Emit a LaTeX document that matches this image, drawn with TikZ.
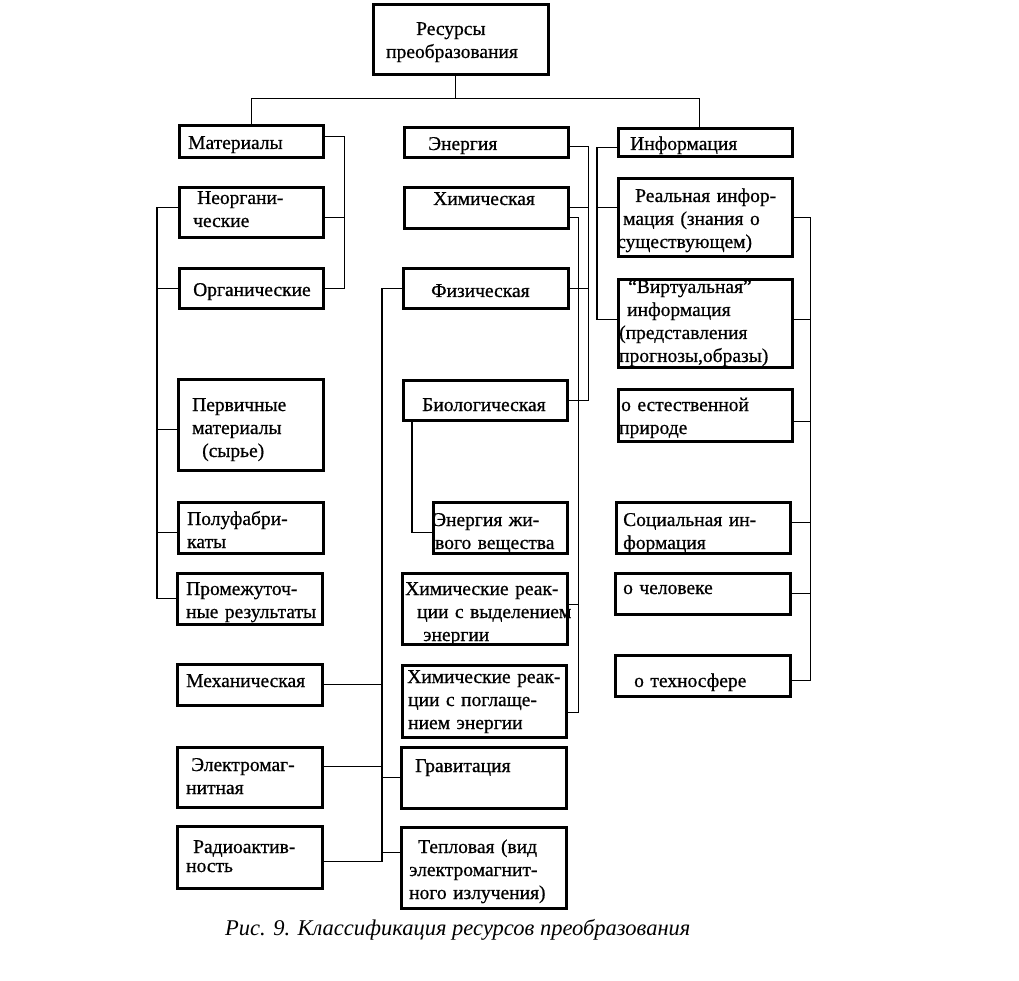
\documentclass[tikz,border=0pt]{standalone}
\usepackage{fontspec}
\setmainfont{Liberation Serif}
\newfontfamily\bodyf[FakeBold=0.7]{Liberation Serif}
\newcommand\fs{\bodyf\fontsize{19.5}{23}\selectfont}
\newcommand\Bx[5]{\node[box, minimum width={#4-#2}, minimum height={#5-#3}] (#1) at (#2,#3) {};}
\begin{document}
\begin{tikzpicture}[x=1pt,y=-1pt,
  box/.style={draw, line width=2.6pt, rectangle, anchor=north west, inner sep=0pt},
  txt/.style={anchor=base west, inner sep=0pt, text width=200pt, align=left, font=\fs},
  con/.style={line width=1.2pt}]
\useasboundingbox[fill=white] (0,0) rectangle (1019,981);

% boxes
\Bx{top}{372}{3}{547}{73}
\Bx{mat}{178}{124}{322}{156}
\Bx{neorg}{178}{186}{322}{236}
\Bx{org}{178}{267}{322}{307}
\Bx{perv}{177}{378}{322}{469}
\Bx{polu}{177}{501}{322}{552}
\Bx{prom}{176}{572}{321}{623}
\Bx{meh}{176}{663}{321}{704}
\Bx{el}{176}{746}{321}{806}
\Bx{rad}{176}{825}{321}{887}
\Bx{en}{403}{126}{567}{156}
\Bx{him}{403}{186}{567}{227}
\Bx{fiz}{402}{267}{567}{307}
\Bx{bio}{402}{379}{566}{419}
\Bx{ej}{432}{501}{566}{552}
\Bx{hrv}{401}{572}{566}{643}
\Bx{hrp}{401}{664}{565}{736}
\Bx{grav}{400}{746}{565}{807}
\Bx{tep}{400}{826}{565}{907}
\Bx{inf}{617}{127}{791}{155}
\Bx{real}{617}{177}{791}{255}
\Bx{virt}{617}{278}{791}{366}
\Bx{est}{617}{388}{791}{440}
\Bx{soc}{615}{501}{789}{552}
\Bx{chel}{614}{572}{789}{613}
\Bx{teh}{614}{654}{789}{695}

% texts
\node[txt] (ttop) at (386,35) {\hspace*{30pt}Ресурсы\\преобразования};
\node[txt] (tmat) at (188,149) {Материалы};
\node[txt] (tneorg) at (193,204) {\hspace*{4pt}Неоргани-\\ческие};
\node[txt] (torg) at (193,296) {Органические};
\node[txt] (tperv) at (192,411) {Первичные\\материалы\\\hspace*{10pt}(сырье)};
\node[txt] (tpolu) at (187,525) {Полуфабри-\\каты};
\node[txt] (tprom) at (186,595) {Промежуточ-\\ные результаты};
\node[txt] (tmeh) at (186,687) {Механическая};
\node[txt] (tel) at (186,771) {\hspace*{5pt}Электромаг-\\нитная};
\node[txt] (trad) at (186,853) {\hspace*{7pt}Радиоактив-\\[-4pt]ность};
\node[txt] (ten) at (428,150) {Энергия};
\node[txt] (thim) at (433,205) {Химическая};
\node[txt] (tfiz) at (431,297) {Физическая};
\node[txt] (tbio) at (422,411) {Биологическая};
\node[txt] (tej) at (433,526) {Энергия жи-\\\hspace*{2pt}вого вещества};
\node[txt] (thrv) at (405,595) {Химические реак-\\\hspace*{12pt}ции с выделением\\\hspace*{18pt}энергии};
\node[txt] (thrp) at (407,683) {Химические реак-\\\hspace*{1pt}ции с поглаще-\\\hspace*{1pt}нием энергии};
\node[txt] (tgrav) at (415,772) {Гравитация};
\node[txt] (ttep) at (409,853) {\hspace*{9pt}Тепловая (вид\\электромагнит-\\ного излучения)};
\node[txt] (tinf) at (630,150) {Информация};
\node[txt] (treal) at (617,202) {\hspace*{18pt}Реальная инфор-\\\hspace*{6pt}мация (знания о\\существующем)};
\node[txt] (tvirt) at (619,293) {\hspace*{9pt}“Виртуальная”\\\hspace*{8pt}информация\\(представления\\прогнозы,образы)};
\node[txt] (test) at (619,411) {\hspace*{2pt}о естественной\\природе};
\node[txt] (tsoc) at (623,526) {Социальная ин-\\формация};
\node[txt] (tchel) at (623,594) {о человеке};
\node[txt] (tteh) at (634,687) {о техносфере};

% connectors
\draw[con] ([xshift=-5pt]top.south) -- ++(0,23) coordinate (hub);
\draw[con] (mat.north) |- (hub) -| ([xshift=-6pt]inf.north);

\draw[con] ([yshift=5pt]mat.east) -- ++(20,0) coordinate (mx) |- (org.east);
\draw[con] ([yshift=-5pt]neorg.east) -- ([yshift=-5pt]neorg.east -| mx);

\draw[con] ([yshift=5pt]neorg.west) -- ++(-21,0) coordinate (lx) |- (prom.west);
\draw[con] (org.west) -- (org.west -| lx);
\draw[con] ([yshift=-5pt]perv.west) -- ([yshift=-5pt]perv.west -| lx);
\draw[con] ([yshift=-5pt]polu.west) -- ([yshift=-5pt]polu.west -| lx);

\draw[con] ([yshift=-4pt]en.east) -- ++(19,0) coordinate (ex) |- (bio.east);
\draw[con] (him.east) -- (him.east -| ex);
\draw[con] (fiz.east) -- (fiz.east -| ex);

\draw[con] ([yshift=-10pt]him.east) -- ++(9,0) coordinate (hx) |- ([yshift=-11pt]hrp.east);
\draw[con] ([yshift=4pt]hrv.east) -- ([yshift=4pt]hrv.east -| hx);

\draw[con] (fiz.west) -- ++(-20,0) coordinate (fx) |- ([yshift=-4pt]rad.east);
\draw[con] (meh.east) -- (meh.east -| fx);
\draw[con] ([yshift=11pt]el.east) -- ([yshift=11pt]el.east -| fx);
\draw[con] (grav.west) -- (grav.west -| fx);
\draw[con] ([yshift=15pt]tep.west) -- ([yshift=15pt]tep.west -| fx);

\draw[con] ([xshift=10pt]bio.south west) |- ([yshift=-5pt]ej.west);

\draw[con] ([yshift=-5pt]inf.west) -- ++(-20,0) coordinate (ix) |- ([yshift=4pt]virt.west);
\draw[con] ([yshift=10pt]real.west) -- ([yshift=10pt]real.west -| ix);

\draw[con] (real.east) -- ++(17,0) coordinate (rx) |- ([yshift=-5pt]teh.east);
\draw[con] ([yshift=4pt]virt.east) -- ([yshift=4pt]virt.east -| rx);
\draw[con] ([yshift=-6pt]est.east) -- ([yshift=-6pt]est.east -| rx);
\draw[con] ([yshift=5pt]soc.east) -- ([yshift=5pt]soc.east -| rx);
\draw[con] (chel.east) -- (chel.east -| rx);

% caption
\node[anchor=base west, inner sep=0pt, font=\fontsize{22.5}{26}\selectfont\itshape] (cap) at (225,935) {Рис. 9. Классификация ресурсов преобразования};
\end{tikzpicture}
\end{document}
